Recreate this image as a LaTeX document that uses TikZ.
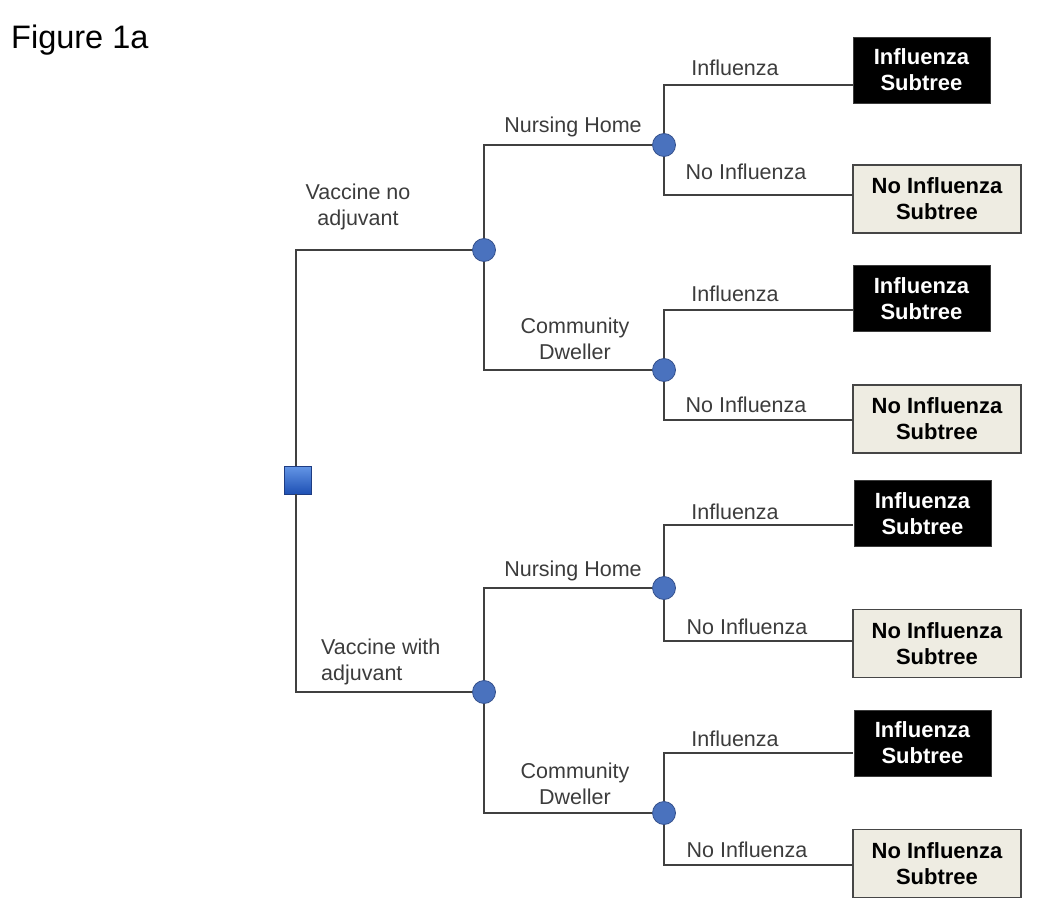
\documentclass[tikz,border=0pt]{standalone}
\usepackage{fontspec}
\setmainfont{Liberation Sans}
\begin{document}
\begin{tikzpicture}[x=1pt,y=-1pt,
  conn/.style={draw={rgb,255:red,64;green,64;blue,64}, line width=1.5pt},
  chance/.style={circle, inner sep=0pt, minimum size=23pt, fill={rgb,255:red,74;green,114;blue,190}, draw={rgb,255:red,52;green,80;blue,140}, line width=0.8pt},
  decision/.style={rectangle, inner sep=0pt, minimum width=27pt, minimum height=28pt, top color={rgb,255:red,100;green,150;blue,230}, bottom color={rgb,255:red,30;green,80;blue,180}, draw={rgb,255:red,30;green,60;blue,130}, line width=0.6pt},
  infbox/.style={rectangle, fill=black, draw={rgb,255:red,60;green,60;blue,60}, minimum width=137pt, minimum height=66pt, inner sep=0pt, text=white, font=\fontsize{22}{26}\selectfont\bfseries, align=center},
  noinfbox/.style={rectangle, fill={rgb,255:red,238;green,236;blue,226}, draw={rgb,255:red,70;green,70;blue,70}, line width=1.2pt, minimum width=168pt, minimum height=68pt, inner sep=0pt, text=black, font=\fontsize{22}{26}\selectfont\bfseries, align=center},
  lbl/.style={text={rgb,255:red,60;green,60;blue,60}, font=\fontsize{21.5}{26}\selectfont, inner sep=0pt, align=center}
]
\useasboundingbox (0,0) rectangle (1050,923);
\node[anchor=west, inner sep=0pt, font=\fontsize{32.5}{38}\selectfont] (title) at (11,40) {Figure 1a};

% nodes
\node[decision] (d) at (298,480) {};
\node[chance] (c1) at (484,250) {};
\node[chance] (c2) at (484,692) {};
\node[chance] (c11) at (664,145) {};
\node[chance] (c12) at (664,370) {};
\node[chance] (c21) at (664,588) {};
\node[chance] (c22) at (664,813) {};

\node[infbox] (b11) at (921.5,70) {Influenza\\Subtree};
\node[noinfbox] (n11) at (937,199) {No Influenza\\Subtree};
\node[infbox] (b12) at (921.5,298.5) {Influenza\\Subtree};
\node[noinfbox] (n12) at (937,419) {No Influenza\\Subtree};
\node[infbox] (b21) at (922.5,513.5) {Influenza\\Subtree};
\node[noinfbox] (n21) at (937,643.5) {No Influenza\\Subtree};
\node[infbox] (b22) at (922.5,743) {Influenza\\Subtree};
\node[noinfbox] (n22) at (937,863.5) {No Influenza\\Subtree};

\coordinate (e11) at (853,85);
\coordinate (f11) at (853,195);
\coordinate (e12) at (853,310);
\coordinate (f12) at (853,420);
\coordinate (e21) at (853,525);
\coordinate (f21) at (853,641);
\coordinate (e22) at (853,753);
\coordinate (f22) at (853,865);

% connectors
\draw[conn] (d.north -| 296,0) |- (c1);
\draw[conn] (d.south -| 296,0) |- (c2);
\draw[conn] (c1) |- (c11);
\draw[conn] (c1) |- (c12);
\draw[conn] (c2) |- (c21);
\draw[conn] (c2) |- (c22);
\draw[conn] (c11) |- (e11);
\draw[conn] (c11) |- (f11);
\draw[conn] (c12) |- (e12);
\draw[conn] (c12) |- (f12);
\draw[conn] (c21) |- (e21);
\draw[conn] (c21) |- (f21);
\draw[conn] (c22) |- (e22);
\draw[conn] (c22) |- (f22);

% labels
\node[lbl] (l1) at (358,207) {Vaccine no\\adjuvant};
\node[lbl, anchor=west, align=left] (l2) at (321,662) {Vaccine with\\adjuvant};
\node[lbl] (l11) at (573,127) {Nursing Home};
\node[lbl] (l12) at (575,339) {Community\\Dweller};
\node[lbl] (l21) at (573,571) {Nursing Home};
\node[lbl] (l22) at (575,784) {Community\\Dweller};
\node[lbl] (i11) at (735,68) {Influenza};
\node[lbl] (j11) at (746,172) {No Influenza};
\node[lbl] (i12) at (735,294) {Influenza};
\node[lbl] (j12) at (746,405) {No Influenza};
\node[lbl] (i21) at (735,512) {Influenza};
\node[lbl] (j21) at (747,627) {No Influenza};
\node[lbl] (i22) at (735,739) {Influenza};
\node[lbl] (j22) at (747,850) {No Influenza};
\end{tikzpicture}
\end{document}
